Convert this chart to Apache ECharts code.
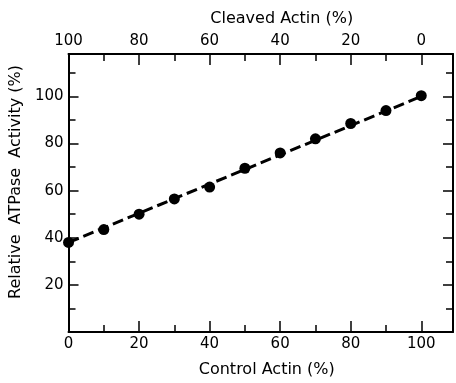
<!DOCTYPE html>
<html>
<head>
<meta charset="utf-8">
<script src="https://cdn.jsdelivr.net/npm/echarts@6/dist/echarts.min.js"></script>
<style>
  html, body { margin: 0; padding: 0; background: #fff; }
  #chart { width: 456px; height: 383px; }
</style>
</head>
<body>
<div id="chart"></div>
<script>
// control actin (%) and measured relative ATPase activity (%)
const controlActin = [0, 10, 20, 30, 40, 50, 60, 70, 80, 90, 100];
const atpaseActivity = [38, 43.5, 50, 56.5, 61.5, 69.5, 76, 82, 88.5, 94, 100.3];
// dashed fitted line endpoints
const fitLine = [[0, 38], [100, 100]];

const font = "DejaVu Sans";
const ink = "#000";
const X_MAX = 109, Y_MAX = 118;
const tickFont = 15, nameFont = 16;

let chartDom = document.getElementById("chart");
let chart = echarts.init(chartDom, null, { renderer: "canvas" });

// each side gets a major axis (labels, long ticks) and a minor one (short ticks only)
function xAxisMajor(pos, extra) {
  return Object.assign({
    type: "value", position: pos, min: 0, max: X_MAX, interval: 20,
    axisLine: { show: true, onZero: false, lineStyle: { color: ink, width: 2 } },
    axisTick: { show: true, inside: true, length: 11, lineStyle: { color: ink, width: 1.5 } },
    splitLine: { show: false },
    axisLabel: { show: true, margin: 5, color: ink, fontFamily: font, fontSize: tickFont, showMaxLabel: false },
    nameLocation: "middle",
  }, extra);
}
function xAxisMinor(pos) {
  return {
    type: "value", position: pos, min: 0, max: X_MAX, interval: 10,
    axisLine: { show: false, onZero: false },
    axisTick: { show: true, inside: true, length: 7, lineStyle: { color: ink, width: 1.5 } },
    splitLine: { show: false },
    axisLabel: { show: false },
  };
}
function yAxisMajor(pos, showLabel, extra) {
  return Object.assign({
    type: "value", position: pos, min: 0, max: Y_MAX, interval: 20,
    axisLine: { show: true, onZero: false, lineStyle: { color: ink, width: 2 } },
    axisTick: { show: true, inside: true, length: 10, lineStyle: { color: ink, width: 1.5 } },
    splitLine: { show: false },
    axisLabel: {
      show: showLabel, margin: 5, color: ink, fontFamily: font, fontSize: tickFont,
      formatter: (v) => (v === 0 || v > 100 ? "" : v),
    },
    nameLocation: "middle",
  }, extra);
}
function yAxisMinor(pos) {
  return {
    type: "value", position: pos, min: 0, max: Y_MAX, interval: 10,
    axisLine: { show: false, onZero: false },
    axisTick: { show: true, inside: true, length: 7, lineStyle: { color: ink, width: 1.5 } },
    splitLine: { show: false },
    axisLabel: { show: false },
  };
}

let option = {
  animation: false,
  backgroundColor: "#fff",
  grid: { left: 67, right: 3, top: 54, bottom: 47, containLabel: false },
  xAxis: [
    xAxisMajor("bottom", {
      name: "Control Actin (%)", nameGap: 30,
      nameTextStyle: { color: ink, fontFamily: font, fontSize: nameFont, padding: [0, 0, 0, 12] },
    }),
    xAxisMinor("bottom"),
    xAxisMajor("top", {
      name: "Cleaved Actin (%)", nameGap: 27,
      nameTextStyle: { color: ink, fontFamily: font, fontSize: nameFont, padding: [0, 0, 0, 42] },
      axisLabel: {
        show: true, margin: 5, color: ink, fontFamily: font, fontSize: tickFont, showMaxLabel: false,
        formatter: (v) => (v <= 100 ? 100 - v : ""),
      },
    }),
    xAxisMinor("top"),
  ],
  yAxis: [
    yAxisMajor("left", true, {
      name: "Relative  ATPase  Activity (%)", nameGap: 40, nameRotate: 90,
      nameTextStyle: { color: ink, fontFamily: font, fontSize: nameFont, padding: [0, 0, 0, 22] },
    }),
    yAxisMinor("left"),
    yAxisMajor("right", false, {}),
    yAxisMinor("right"),
  ],
  series: [
    {
      type: "line",
      data: fitLine,
      xAxisIndex: 0, yAxisIndex: 0,
      showSymbol: false,
      lineStyle: { color: ink, width: 3, type: [11, 5] },
      silent: true,
      z: 2,
    },
    {
      type: "scatter",
      data: controlActin.map((x, i) => [x, atpaseActivity[i]]),
      xAxisIndex: 0, yAxisIndex: 0,
      symbol: "circle",
      symbolSize: 11,
      itemStyle: { color: ink, opacity: 1 },
      z: 3,
    },
  ],
};
chart.setOption(option);
</script>
</body>
</html>
